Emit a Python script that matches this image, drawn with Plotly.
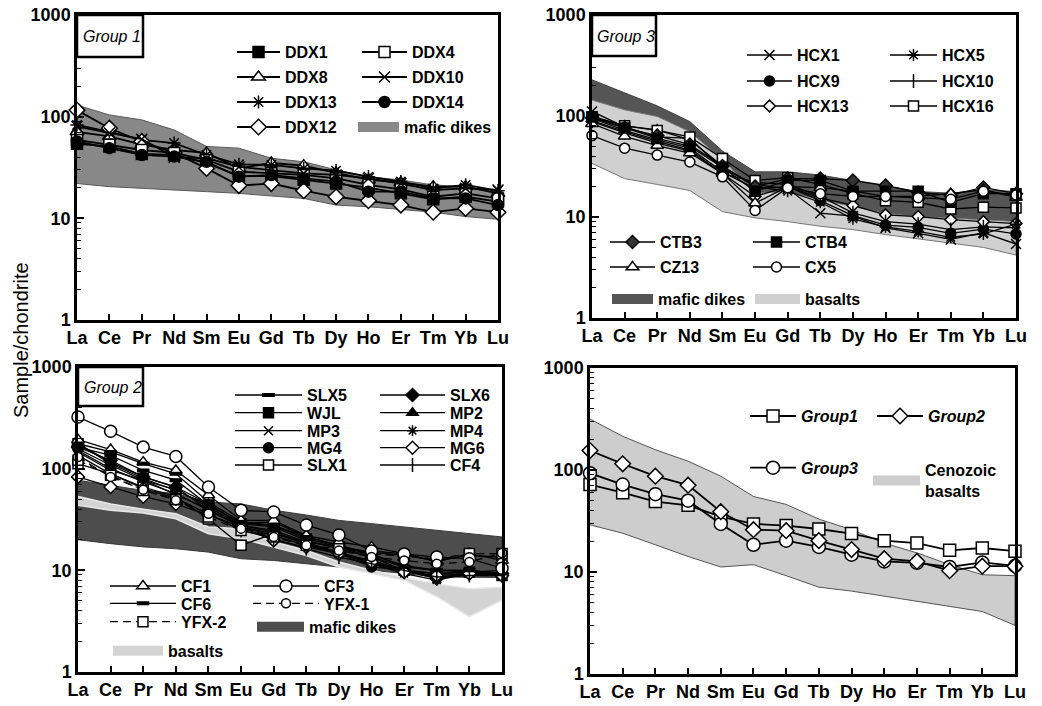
import plotly.graph_objects as go

W, H = 1042, 706
FONT = "Liberation Sans, Arial, sans-serif"

REE = ["La", "Ce", "Pr", "Nd", "Sm", "Eu", "Gd", "Tb", "Dy", "Ho", "Er", "Tm", "Yb", "Lu"]
Y_TICK_VALS = [1, 10, 100, 1000]
Y_TICK_TEXT = ["1", "10", "100", "1000"]

# ---------------- Panel: Group 1 ----------------
DDX1 = [54, 51, 43, 42, 35, 26, 26, 24, 22, 20, 17.6, 15.4, 16.3, 14.6]
DDX4 = [59, 53, 47, 44, 37.5, 28.8, 27.7, 26.7, 24.7, 21.3, 19.3, 16.3, 17.6, 15.7]
DDX8 = [71, 64, 53, 47, 44, 31, 35, 33, 28, 24, 22.4, 20.5, 20.5, 17.6]
DDX10 = [80, 69, 60, 40, 39, 32, 30, 27.7, 26.7, 24.7, 22, 19, 19.7, 19]
DDX13 = [83, 71, 59, 55, 42, 34, 33.5, 31, 29.4, 25.7, 23, 19.7, 21.3, 18.7]
DDX14 = [57, 49, 42, 40.5, 36, 25.7, 26.7, 24.7, 23, 18.3, 18.3, 15.7, 15.7, 13.5]
DDX12 = [116, 77, 57, 44, 31, 21, 22, 18.7, 16.3, 14.9, 13.5, 11.5, 12.5, 11.5]
G1_DIKES_HI = [130, 104, 93, 74, 51, 49, 39, 36, 30, 25.7, 23.8, 21.3, 20.5, 18.3]
G1_DIKES_LO = [22, 20.5, 19.7, 19, 18.3, 17.6, 16.6, 15.7, 13.5, 13, 12.3, 11.5, 10.4, 9.8]

# ---------------- Panel: Group 3 ----------------
HCX1 = [111, 78, 62, 60, 30, 21, 19, 10.9, 10.2, 7.8, 6.9, 6.0, 7.0, 5.4]
HCX5 = [100, 80, 73, 58, 32, 20, 18, 14, 9.6, 8.0, 7.2, 6.3, 6.8, 8.5]
HCX9 = [95, 72, 58, 48, 28, 19, 20, 14.5, 10.3, 8.3, 7.9, 6.9, 7.6, 6.8]
HCX10 = [90, 70, 56, 46, 27, 22, 21, 16, 11, 9, 8.5, 7.5, 8, 7.8]
HCX13 = [88, 68, 54, 45, 27, 16, 20, 15.5, 13, 10.5, 10.1, 9.4, 9.0, 8.6]
HCX16 = [98, 80, 72, 62, 38, 23, 24.5, 21, 17, 14.5, 14, 12, 12.5, 12.3]
CTB3 = [96, 76, 64, 52, 32, 20, 24, 24, 23, 20.5, 17.5, 16.5, 19.6, 17]
CTB4 = [98, 76, 60, 50, 31, 18, 23, 23, 18, 18, 18, 14, 17, 17]
CZ13 = [84, 63, 51, 43, 27, 13.7, 20, 19.5, 18, 16, 16, 17, 18.6, 15.6]
CX5 = [64, 48, 41, 35, 25, 11.6, 19.5, 17, 16, 16, 15.5, 15, 18, 16.5]
G3_DIKES_HI = [228, 168, 126, 88, 45, 28, 28, 26, 23, 20, 17.9, 17.2, 18.6, 17.9]
G3_DIKES_LO = [144, 115, 99, 70, 37, 17.2, 17.9, 14.8, 12.7, 10.9, 10.1, 9.8, 9.4, 9.0]
G3_BASALT_HI = [144, 115, 99, 70, 37, 17.2, 17.9, 14.8, 12.7, 10.9, 10.1, 9.8, 9.4, 9.0]
G3_BASALT_LO = [34, 24, 21, 18.3, 11.3, 9.8, 9.0, 8.1, 7.5, 6.7, 6.0, 5.5, 5.0, 4.2]

# ---------------- Panel: Group 2 ----------------
SLX5 = [163, 135, 96, 77, 44, 28.8, 26.7, 19.7, 16.3, 13.5, 10.8, 10, 9.6, 8.9]
SLX6 = [163, 121, 83, 66, 39, 27.7, 23.8, 18.3, 15.1, 12.1, 10, 8.3, 9.3, 9.3]
WJL = [176, 112, 80, 61, 44, 28.8, 27.7, 20.5, 17, 13.5, 10, 9.3, 9.6, 8.9]
MP2 = [176, 116, 83, 66, 45, 29, 30, 21.3, 17.6, 14, 11.2, 10, 10, 9.3]
MP3 = [146, 96, 77, 55, 40, 26.7, 23, 18.3, 14.6, 12.5, 10, 8.3, 9.6, 9.3]
MP4 = [151, 100, 74, 57, 39, 26.7, 22, 17.6, 14.6, 11.6, 9.3, 8.0, 9.3, 8.9]
MG4 = [157, 108, 77, 62, 42, 27.7, 24.7, 19, 14.6, 10.8, 10, 9.3, 9.6, 10]
MG6 = [83, 66, 53, 45, 35, 26.7, 19.7, 17, 14.6, 12.1, 9.6, 8.9, 9.3, 8.9]
SLX1 = [112, 89, 66, 53, 32, 17.6, 23, 19, 17, 15.1, 14, 12.5, 14, 13.5]
CF4 = [135, 89, 64, 51, 36, 24.7, 20.5, 16.3, 13.5, 11.6, 10, 8.6, 8.9, 8.9]
CF1 = [193, 154, 116, 96, 55, 31, 31, 22, 19, 17, 14.6, 12.1, 14.6, 12.5]
CF3 = [322, 233, 163, 132, 66, 39, 37.5, 27.9, 22.3, 15.5, 14.5, 13.5, 13, 10.5]
CF6 = [176, 146, 112, 89, 47, 30, 27.7, 21.3, 17.6, 14.6, 10.8, 10, 10, 9.3]
YFX1 = [130, 83, 62, 49, 36, 25.7, 21.3, 17.6, 15.7, 13.5, 12.5, 11.6, 12.1, 14.8]
YFX2 = [121, 86, 61, 49.6, 33.5, 24.7, 21.3, 17.6, 16.3, 14.6, 13.7, 13.0, 14.6, 14.6]
G2_DIKES_HI = [77, 69, 61, 57, 47, 45, 39, 35, 31, 28.8, 26.7, 24.7, 22.9, 21.3]
G2_DIKES_LO = [20, 18.3, 17, 16.3, 15.1, 13, 12.5, 11.6, 10.8, 10, 9.3, 8.6, 8.6, 8.5]
G2_BASALT_HI = [53.4, 45, 40, 36, 26.7, 25.7, 19, 15.7, 12.1, 10, 8.5, 7.4, 6.6, 6.8]
G2_BASALT_LO = [43.6, 39, 36.6, 32.2, 22.9, 20.5, 17, 14, 10.8, 9.3, 8.0, 5.5, 3.5, 5.1]

# ---------------- Panel: averages ----------------
GROUP1 = [72, 60, 49, 45, 35, 29.6, 28.5, 26.4, 23.8, 20.3, 19.2, 16.3, 17.2, 16.0]
GROUP2 = [155, 115, 87, 71, 39, 26, 25.4, 20.3, 16.6, 13.5, 12.7, 10.3, 11.4, 11.4]
GROUP3 = [93, 72, 58, 50, 29.6, 18.5, 20.3, 17.6, 14.8, 12.7, 12.3, 11.2, 12.4, 11.5]
CENOZOIC_HI = [316, 214, 158, 122, 87, 55, 46, 33, 26, 19.2, 15.4, 11.8, 9.4, 9.2]
CENOZOIC_LO = [29, 24, 18.5, 14.2, 11.2, 11.8, 9.2, 7.1, 6.5, 5.8, 5.2, 4.6, 4.1, 3.0]

# ---------------- layout geometry (pixels) ----------------
PANELS = {1: (77, 498, 15, 320), 2: (592, 1016, 15, 318),
          3: (78, 502, 367, 672), 4: (590, 1015, 368, 674)}

fig = go.Figure()


def axn(i):
    return "" if i == 1 else str(i)


legend_layouts = {}
_count = [0]


def new_legend(ls, le, my, size=16, italic=False):
    """Legend key whose sample line runs from ls to le (px), centred at row my (px)."""
    _count[0] += 1
    key = "legend" if _count[0] == 1 else "legend%d" % _count[0]
    x0 = ls - 5
    h = max(size * 1.3, 16) + 3
    y0 = my - (5 + h / 2)
    legend_layouts[key] = dict(
        x=x0 / W, y=1 - y0 / H, xanchor="left", yanchor="top",
        bgcolor="rgba(0,0,0,0)", borderwidth=0,
        itemwidth=max(30, le - ls),
        font=dict(family=FONT, size=size, color="black", weight="bold",
                  style="italic" if italic else "normal"),
    )
    return key


LINE_SYMS = ("x-thin-open", "asterisk-open", "line-ns-open", "line-ew-open")


def add_series(panel, name, values, sym, fill, size, leg, lw=1.5, dash="solid", mlw=1.5):
    fig.add_trace(go.Scatter(
        x=REE, y=values, name=name, mode="lines+markers",
        xaxis="x" + axn(panel), yaxis="y" + axn(panel),
        line=dict(color="black", width=lw, dash=dash),
        marker=dict(symbol=sym, size=size,
                    color="black" if sym in LINE_SYMS else fill,
                    line=dict(color="black", width=mlw)),
        cliponaxis=False, legend=leg, showlegend=True))


def add_band(panel, hi, lo, fill, edge, ew=1.0):
    fig.add_trace(go.Scatter(
        x=REE + REE[::-1], y=hi + lo[::-1], mode="lines", fill="toself",
        fillcolor=fill, line=dict(color=edge, width=ew),
        xaxis="x" + axn(panel), yaxis="y" + axn(panel),
        showlegend=False, hoverinfo="skip"))


def add_band_key(panel, name, fill, leg):
    fig.add_trace(go.Scatter(
        x=[None], y=[None], mode="lines", name=name,
        line=dict(color=fill, width=10),
        xaxis="x" + axn(panel), yaxis="y" + axn(panel),
        legend=leg, showlegend=True))


# ---------- Panel 1 ----------
add_band(1, G1_DIKES_HI, G1_DIKES_LO, "#888888", "#5a5a5a")
S1 = 11
add_series(1, "DDX1", DDX1, "square", "black", S1, new_legend(237, 280, 52), lw=1.8)
add_series(1, "DDX8", DDX8, "triangle-up", "white", S1 + 1, new_legend(237, 280, 77), lw=1.8)
add_series(1, "DDX13", DDX13, "asterisk-open", "black", S1, new_legend(237, 280, 102), lw=1.8)
add_series(1, "DDX12", DDX12, "diamond", "white", S1 + 1, new_legend(237, 280, 127), lw=1.8)
add_series(1, "DDX4", DDX4, "square", "white", S1, new_legend(362, 407, 52), lw=1.8)
add_series(1, "DDX10", DDX10, "x-thin-open", "black", S1, new_legend(362, 407, 77), lw=1.8)
add_series(1, "DDX14", DDX14, "circle", "black", S1, new_legend(362, 407, 102), lw=1.8)
add_band_key(1, "mafic dikes", "#888888", new_legend(358, 399, 127))

# ---------- Panel 2 (Group 3) ----------
add_band(2, G3_DIKES_HI, G3_DIKES_LO, "#555555", "#444444")
add_band(2, G3_BASALT_HI, G3_BASALT_LO, "#d0d0d0", "#777777")
S2 = 10
add_series(2, "HCX1", HCX1, "x-thin-open", "black", S2, new_legend(747, 792, 55), lw=1.3)
add_series(2, "HCX9", HCX9, "circle", "black", S2, new_legend(747, 792, 81), lw=1.3)
add_series(2, "HCX13", HCX13, "diamond", "white", S2 - 1, new_legend(747, 792, 106), lw=1.3)
add_series(2, "HCX5", HCX5, "asterisk-open", "black", S2, new_legend(890, 937, 55), lw=1.3)
add_series(2, "HCX10", HCX10, "line-ns-open", "black", S2, new_legend(890, 937, 81), lw=1.3)
add_series(2, "HCX16", HCX16, "square", "white", S2, new_legend(890, 937, 106), lw=1.3)
add_series(2, "CTB3", CTB3, "diamond", "#333333", S2, new_legend(610, 655, 242), lw=1.3)
add_series(2, "CZ13", CZ13, "triangle-up", "white", S2 + 1, new_legend(610, 655, 267), lw=1.3)
add_series(2, "CTB4", CTB4, "square", "black", S2, new_legend(753, 800, 242), lw=1.3)
add_series(2, "CX5", CX5, "circle", "white", S2, new_legend(753, 800, 267), lw=1.3)
add_band_key(2, "mafic dikes", "#555555", new_legend(612, 653, 299))
add_band_key(2, "basalts", "#d0d0d0", new_legend(755, 800, 299))

# ---------- Panel 3 (Group 2) ----------
add_band(3, G2_DIKES_HI, G2_DIKES_LO, "#4d4d4d", "#3a3a3a")
add_band(3, G2_BASALT_HI, G2_BASALT_LO, "#d3d3d3", "#e8e8e8", 1.5)
S3 = 10
add_series(3, "SLX5", SLX5, "line-ew-open", "black", 9, new_legend(235, 302, 395), lw=1.3, mlw=4)
add_series(3, "WJL", WJL, "square", "black", S3, new_legend(235, 302, 412.7), lw=1.3)
add_series(3, "MP3", MP3, "x-thin-open", "black", S3 - 1, new_legend(235, 302, 430.7), lw=1.3)
add_series(3, "MG4", MG4, "circle", "black", S3, new_legend(235, 302, 447.7), lw=1.3)
add_series(3, "SLX1", SLX1, "square", "white", S3, new_legend(235, 302, 465), lw=1.3)
add_series(3, "SLX6", SLX6, "diamond", "black", S3, new_legend(380, 445, 395), lw=1.3)
add_series(3, "MP2", MP2, "triangle-up", "black", S3, new_legend(380, 445, 412.7), lw=1.3)
add_series(3, "MP4", MP4, "asterisk-open", "black", S3 - 1, new_legend(380, 445, 430.7), lw=1.3)
add_series(3, "MG6", MG6, "diamond", "white", S3, new_legend(380, 445, 447.7), lw=1.3)
add_series(3, "CF4", CF4, "line-ns-open", "black", S3, new_legend(380, 445, 465), lw=1.3)
add_series(3, "CF1", CF1, "triangle-up", "white", S3 + 1, new_legend(110, 176, 586), lw=1.3)
add_series(3, "CF6", CF6, "line-ew-open", "black", 9, new_legend(110, 176, 603.3), lw=1.3, mlw=4)
add_series(3, "YFX-2", YFX2, "square", "white", S3, new_legend(110, 176, 621.7), lw=1.3, dash="8px,5px")
add_series(3, "CF3", CF3, "circle", "white", S3 + 2, new_legend(253, 319, 586), lw=1.3)
add_series(3, "YFX-1", YFX1, "circle", "white", S3 - 1, new_legend(253, 319, 603.3), lw=1.3, dash="8px,5px")
add_band_key(3, "mafic dikes", "#4d4d4d", new_legend(257, 304, 626.7))
add_band_key(3, "basalts", "#d3d3d3", new_legend(113, 163, 650.7))

# ---------- Panel 4 (averages) ----------
add_band(4, CENOZOIC_HI, CENOZOIC_LO, "#cdcdcd", "#555555")
S4 = 12
add_series(4, "Group1", GROUP1, "square", "white", S4, new_legend(750, 796, 416, italic=True), lw=1.8)
add_series(4, "Group3", GROUP3, "circle", "white", S4 + 1, new_legend(750, 796, 467.7, italic=True), lw=1.8)
add_series(4, "Group2", GROUP2, "diamond", "white", S4, new_legend(877, 923, 416, italic=True), lw=1.8)
add_band_key(4, "Cenozoic<br>basalts", "#cdcdcd", new_legend(873, 920, 470))

# ---------- axes ----------
minor_vals = [m * 10 ** e for e in range(3) for m in range(2, 10)]
layout_axes = {}
for i, (l, r, t, b) in PANELS.items():
    layout_axes["xaxis" + axn(i)] = dict(
        domain=[l / W, r / W], anchor="y" + axn(i), type="category",
        categoryorder="array", categoryarray=REE, range=[0, 13],
        showline=True, linewidth=2.5, linecolor="black", mirror=True,
        ticks="inside", ticklen=6, tickwidth=1.5, tickcolor="black",
        showgrid=False, zeroline=False, fixedrange=True, automargin=False,
        tickfont=dict(family=FONT, size=18, color="black", weight="bold"))
    layout_axes["yaxis" + axn(i)] = dict(
        domain=[1 - b / H, 1 - t / H], anchor="x" + axn(i), type="log",
        range=[0, 3], tickmode="array", tickvals=Y_TICK_VALS, ticktext=Y_TICK_TEXT,
        showline=True, linewidth=2.5, linecolor="black", mirror=True,
        ticks="inside", ticklen=7, tickwidth=1.5, tickcolor="black",
        minor=dict(tickmode="array", tickvals=minor_vals, ticks="inside",
                   ticklen=4, tickwidth=1, tickcolor="black", showgrid=False),
        showgrid=False, zeroline=False, fixedrange=True, automargin=False,
        tickfont=dict(family=FONT, size=18, color="black", weight="bold"))

# group label boxes
BOXES = [((77, 143, 15, 57), "Group 1", 81, 36),
         ((592, 656, 15, 56), "Group 3", 595, 37),
         ((78, 143, 367, 406), "Group 2", 82, 387)]
shapes = []
annotations = []
for (x0, x1, y0, y1), label, tx, ty in BOXES:
    shapes.append(dict(type="rect", xref="paper", yref="paper",
                       x0=x0 / W, x1=x1 / W, y0=1 - y1 / H, y1=1 - y0 / H,
                       line=dict(color="black", width=2.5), fillcolor="white", layer="above"))
    annotations.append(dict(text=label, xref="paper", yref="paper", x=tx / W, y=1 - ty / H,
                            xanchor="left", yanchor="middle", showarrow=False,
                            font=dict(family=FONT, size=16, color="black", style="italic")))

annotations.append(dict(text="Sample/chondrite", xref="paper", yref="paper",
                        x=21 / W, y=1 - 340 / H, textangle=-90, showarrow=False,
                        xanchor="center", yanchor="middle",
                        font=dict(family=FONT, size=20, color="black")))

fig.update_layout(
    width=W, height=H, autosize=False,
    margin=dict(l=0, r=0, t=0, b=0, pad=0, autoexpand=False),
    paper_bgcolor="white", plot_bgcolor="white",
    shapes=shapes, annotations=annotations,
    **layout_axes, **legend_layouts)

fig.write_html("out.html", config={"displayModeBar": False},
               post_script="document.body.style.margin='0';")
